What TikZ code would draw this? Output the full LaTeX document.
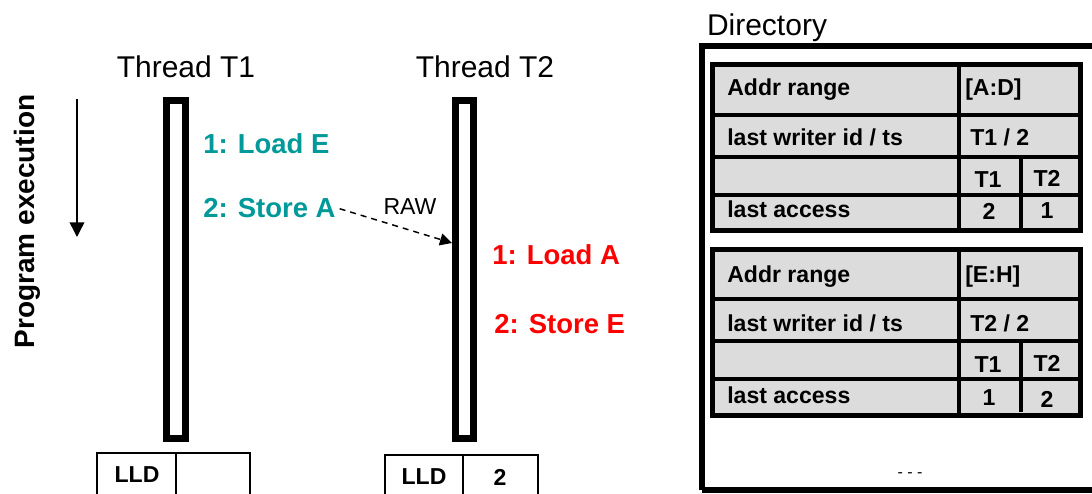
\documentclass[tikz,border=0pt]{standalone}
\usepackage{fontspec}
\setmainfont{Liberation Sans}
\usetikzlibrary{arrows.meta}
\definecolor{instrteal}{HTML}{009999}
\definecolor{instrred}{HTML}{FF0000}
\definecolor{cellgrey}{HTML}{DCDCDC}
\begin{document}
\begin{tikzpicture}[x=0.75pt,y=-0.75pt,
  title/.style={font=\fontsize{22.5}{27}\selectfont, inner sep=0pt, anchor=base},
  instr/.style={font=\fontsize{20.6}{24}\selectfont\bfseries, inner sep=0pt, anchor=base west},
  cell/.style={font=\fontsize{17.3}{20}\selectfont\bfseries, inner sep=0pt, anchor=base west},
  cellc/.style={font=\fontsize{17.3}{20}\selectfont\bfseries, inner sep=0pt, anchor=base},
  threadbar/.style={line width=5.25pt},
  tbl/.style={line width=3.75pt, fill=cellgrey},
  sep/.style={line width=2.4pt},
  lldbox/.style={line width=1.1pt},
  dirbox/.style={line width=4.5pt}]
\useasboundingbox (0,0) rectangle (1092,493);

% thread titles
\node[title] (t1title) at (186,77) {Thread T1};
\node[title] (t2title) at (485,77) {Thread T2};

% program execution
\node[font=\fontsize{21}{25}\selectfont\bfseries, inner sep=0pt, rotate=90, anchor=base] (pe) at (34,221.5) {Program execution};
\coordinate (petop) at (77,99);
\coordinate (pebot) at (77,237);
\draw[line width=1.1pt, -{Triangle[length=11pt,width=11pt]}] (petop) -- (pebot);

% thread bars
\draw[threadbar] (166.5,100.5) rectangle (185.5,438.5);
\draw[threadbar] (455.5,100.5) rectangle (473.5,438.5);

% instructions
\node[instr, text=instrteal] (le) at (203,153) {1: Load E};
\node[instr, text=instrteal] (sa) at (203,217) {2: Store A};
\node[instr, text=instrred] (la) at (492,264) {1: Load A};
\node[instr, text=instrred] (se) at (494,333) {2: Store E};

% RAW arrow
\coordinate (rawend) at (452,243);
\draw[line width=1.1pt, dash pattern=on 4.5pt off 3.75pt, -{Triangle[length=9pt,width=9pt]}, shorten <=3pt] (sa.east) -- (rawend);
\node[font=\fontsize{17.3}{20}\selectfont, inner sep=0pt, anchor=base] (raw) at (410,214) {RAW};

% LLD boxes
\draw[lldbox] (97,500) -- (97,453) -- (250,453) -- (250,500);
\draw[lldbox] (176,453) -- (176,500);
\node[cellc] (lld1) at (137,482) {LLD};
\draw[lldbox] (385,500) -- (385,455) -- (538,455) -- (538,500);
\draw[lldbox] (463,455) -- (463,500);
\node[cellc] (lld2) at (424,484) {LLD};
\node[cellc] (lldv2) at (500,485) {2};

% Directory
\node[title] (dir) at (767,35) {Directory};
\draw[dirbox] (702,490) -- (702,46) -- (1110,46);
\draw[dirbox] (702,490) -- (1110,490);

% table 1
\draw[tbl] (712,64) rectangle (1080,230);
\draw[sep] (712,115) -- (1080,115);
\draw[sep] (712,157) -- (1080,157);
\draw[sep] (712,195) -- (1080,195);
\draw[sep] (959,64) -- (959,230);
\draw[sep] (1021,157) -- (1021,230);
\node[cell] (ar1) at (727,95) {Addr range};
\node[cell] (ad1) at (965,95) {[A:D]};
\node[cell] (lw1) at (727,145) {last writer id / ts};
\node[cell] (lwv1) at (970,145) {T1 / 2};
\node[cellc] (h11) at (988,187) {T1};
\node[cellc] (h12) at (1047,186) {T2};
\node[cell] (la1) at (727,217) {last access};
\node[cellc] (v11) at (989,219) {2};
\node[cellc] (v12) at (1047,218) {1};

% table 2
\draw[tbl] (712,249) rectangle (1080,415);
\draw[sep] (712,299) -- (1080,299);
\draw[sep] (712,341) -- (1080,341);
\draw[sep] (712,379) -- (1080,379);
\draw[sep] (959,249) -- (959,415);
\draw[sep] (1021,341) -- (1021,412);
\node[cell] (ar2) at (727,282) {Addr range};
\node[cell] (ad2) at (965,282) {[E:H]};
\node[cell] (lw2) at (727,331) {last writer id / ts};
\node[cell] (lwv2) at (970,331) {T2 / 2};
\node[cellc] (h21) at (988,372) {T1};
\node[cellc] (h22) at (1047,371) {T2};
\node[cell] (la2) at (727,403) {last access};
\node[cellc] (v21) at (989,405) {1};
\node[cellc] (v22) at (1047,407) {2};

\node[font=\fontsize{12}{14}\selectfont, inner sep=0pt, anchor=base] (dots) at (910,477) {- - -};
\end{tikzpicture}
\end{document}
